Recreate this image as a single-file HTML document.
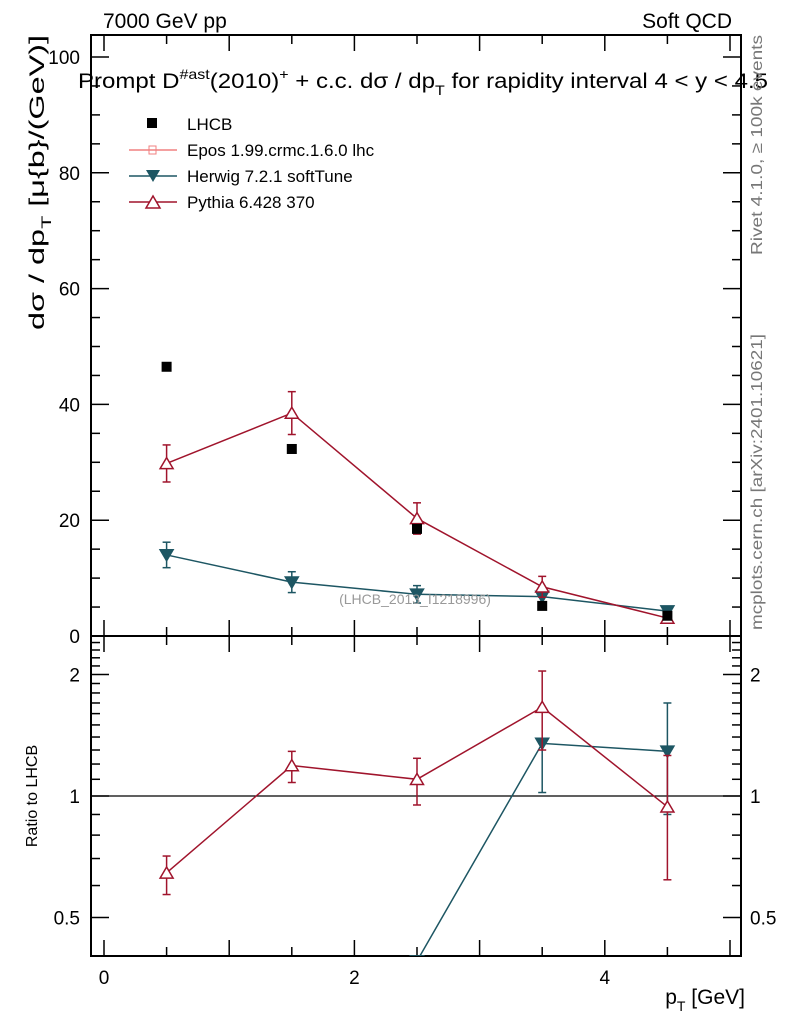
<!DOCTYPE html>
<html><head><meta charset="utf-8"><style>
body{margin:0;background:#fff;}
svg{font-family:"Liberation Sans",sans-serif;}
</style></head><body>
<svg id="c" width="786" height="1024" xmlns="http://www.w3.org/2000/svg"></svg>
<script>
const xCenters=[0.5,1.5,2.5,3.5,4.5];
const lhcb=[46.5,32.3,18.5,5.2,3.5];
const pythia=[29.8,38.5,20.3,8.5,3.1];
const pythiaErr=[3.2,3.7,2.7,1.8,0.8];
const herwig=[14.0,9.3,7.2,6.8,4.3];
const herwigErr=[2.2,1.8,1.5,1.2,0.8];
const ratioPythia=[0.645,1.19,1.10,1.66,0.94];
const ratioPythiaLo=[0.57,1.08,0.95,1.30,0.62];
const ratioPythiaHi=[0.71,1.29,1.24,2.04,1.26];
const ratioHerwig=[0.30,0.29,0.39,1.35,1.29];
const ratioHerwigLo=[0.30,0.29,0.39,1.02,0.90];
const ratioHerwigHi=[0.30,0.29,0.39,1.35,1.70];
const mainTicks=[0,20,40,60,80,100];
const ratioTicks=[0.5,1,2];
const xTicks=[0,2,4];

const L=91,R=741,T=35,MB=636,RB=956;
const X=v=>104+(v-0)*125.2;
const Y=v=>636-v*5.79;
const YR=v=>796-Math.log2(v)*121.5;
const svg=document.getElementById('c');
const NS='http://www.w3.org/2000/svg';
function el(tag,attrs,parent){const e=document.createElementNS(NS,tag);for(const k in attrs)e.setAttribute(k,attrs[k]);(parent||svg).appendChild(e);return e;}
function txt(s,x,y,attrs){const t=el('text',Object.assign({x:x,y:y},attrs||{}));t.textContent=s;return t;}

let f1=el('rect',{x:L,y:T,width:R-L,height:MB-T,fill:'none',stroke:'#000','stroke-width':2});

let f2=el('rect',{x:L,y:MB,width:R-L,height:RB-MB,fill:'none',stroke:'#000','stroke-width':2});


for(let v=0;v<=100;v+=5){const y=Y(v);if(y<T)continue;const big=v%20===0;
 el('line',{x1:L,x2:L+(big?18:9),y1:y,y2:y,stroke:'#000','stroke-width':1.5});
 el('line',{x1:R,x2:R-(big?18:9),y1:y,y2:y,stroke:'#000','stroke-width':1.5});}
mainTicks.forEach(v=>{const t=txt(String(v),80,Y(v)+7,{'font-size':19,'text-anchor':'end'});
 });
for(let v=0;v<=5;v+=0.5){const x=X(v);const big=v%1===0;
 [[MB,-1],[T,1],[RB,-1],[MB,1]].forEach(([y0,d])=>el('line',{x1:x,x2:x,y1:y0,y2:y0+d*(big?16:9),stroke:'#000','stroke-width':1.5}));}
xTicks.forEach(v=>{const t=txt(String(v),X(v),984,{'font-size':19,'text-anchor':'middle'});
 });
for(let v=0.4;v<=2.5;v+=0.1){const y=YR(v);if(y<MB||y>RB)continue;const big=[0.5,1,2].some(a=>Math.abs(a-v)<1e-6);
 el('line',{x1:L,x2:L+(big?18:9),y1:y,y2:y,stroke:'#000','stroke-width':1.5});
 el('line',{x1:R,x2:R-(big?18:9),y1:y,y2:y,stroke:'#000','stroke-width':1.5});}
ratioTicks.forEach(v=>{let t=txt(String(v),80,YR(v)+7,{'font-size':19,'text-anchor':'end'});
 
 t=txt(String(v),750,YR(v)+7,{'font-size':19});
 });
el('line',{x1:L,x2:R,y1:YR(1),y2:YR(1),stroke:'#000','stroke-width':1.2});

const cp=el('clipPath',{id:'rc'});el('rect',{x:L,y:MB,width:R-L,height:RB-MB},cp);
const cm=el('clipPath',{id:'mc'});el('rect',{x:L,y:T,width:R-L,height:MB-T},cm);

const HC='#1d5663',PC='#a0142c';
function tri(g,x,y,c,down){const s=6.5;const p=down?`${x-s},${y-s*0.8} ${x+s},${y-s*0.8} ${x},${y+s*0.9}`:`${x-s},${y+s*0.8} ${x+s},${y+s*0.8} ${x},${y-s*0.9}`;
 el('polygon',{points:p,fill:down?c:'#fff',stroke:c,'stroke-width':1.5},g);}
function errbar(g,x,y1,y2,c){el('line',{x1:x,x2:x,y1:y1,y2:y2,stroke:c,'stroke-width':1.5},g);
 el('line',{x1:x-4,x2:x+4,y1:y1,y2:y1,stroke:c,'stroke-width':1.5},g);el('line',{x1:x-4,x2:x+4,y1:y2,y2:y2,stroke:c,'stroke-width':1.5},g);}

let g=el('g',{'clip-path':'url(#mc)'});
el('polyline',{points:xCenters.map((x,i)=>X(x)+','+Y(herwig[i])).join(' '),fill:'none',stroke:HC,'stroke-width':1.5},g);
xCenters.forEach((x,i)=>{errbar(g,X(x),Y(herwig[i]-herwigErr[i]),Y(herwig[i]+herwigErr[i]),HC);tri(g,X(x),Y(herwig[i]),HC,true);});
g=el('g',{'clip-path':'url(#mc)'});
el('polyline',{points:xCenters.map((x,i)=>X(x)+','+Y(pythia[i])).join(' '),fill:'none',stroke:PC,'stroke-width':1.5},g);
xCenters.forEach((x,i)=>{errbar(g,X(x),Y(pythia[i]-pythiaErr[i]),Y(pythia[i]+pythiaErr[i]),PC);tri(g,X(x),Y(pythia[i]),PC,false);});
g=el('g',{});
xCenters.forEach((x,i)=>{el('rect',{x:X(x)-5,y:Y(lhcb[i])-5,width:10,height:10,fill:'#000'},g);});

g=el('g',{'clip-path':'url(#rc)'});
el('polyline',{points:xCenters.map((x,i)=>X(x)+','+YR(ratioHerwig[i])).join(' '),fill:'none',stroke:HC,'stroke-width':1.5},g);
xCenters.forEach((x,i)=>{if(ratioHerwigHi[i]>ratioHerwigLo[i])errbar(g,X(x),YR(ratioHerwigLo[i]),YR(ratioHerwigHi[i]),HC);tri(g,X(x),YR(ratioHerwig[i]),HC,true);});
g=el('g',{'clip-path':'url(#rc)'});
el('polyline',{points:xCenters.map((x,i)=>X(x)+','+YR(ratioPythia[i])).join(' '),fill:'none',stroke:PC,'stroke-width':1.5},g);
xCenters.forEach((x,i)=>{errbar(g,X(x),YR(ratioPythiaLo[i]),YR(ratioPythiaHi[i]),PC);tri(g,X(x),YR(ratioPythia[i]),PC,false);});
</script>
<svg style="position:absolute;left:0;top:0" width="786" height="1024" xmlns="http://www.w3.org/2000/svg" font-family="Liberation Sans, sans-serif">
<text x="103" y="28" font-size="21">7000 GeV pp</text>
<text x="732" y="28" font-size="21" text-anchor="end">Soft QCD</text>
<text x="78" y="88" font-size="21" textLength="690" lengthAdjust="spacingAndGlyphs">Prompt D<tspan dy="-9" font-size="14">#ast</tspan><tspan dy="9">(2010)</tspan><tspan dy="-9" font-size="14">+</tspan><tspan dy="9"> + c.c.  dσ / dp</tspan><tspan dy="7" font-size="14">T</tspan><tspan dy="-7"> for rapidity interval 4 &lt; y &lt; 4.5</tspan></text>
<g font-size="17">
<rect x="147" y="118" width="10" height="10" fill="#000"/><text x="187" y="130">LHCB</text>
<line x1="129" x2="177" y1="150" y2="150" stroke="#f08080" stroke-width="1.5"/><rect x="149" y="146" width="7" height="8" fill="none" stroke="#f08080"/><text x="187" y="156">Epos 1.99.crmc.1.6.0 lhc</text>
<line x1="129" x2="177" y1="176" y2="176" stroke="#1d5663" stroke-width="1.5"/><polygon points="146,170 160,170 153,182" fill="#1d5663"/><text x="187" y="182">Herwig 7.2.1 softTune</text>
<line x1="129" x2="177" y1="202" y2="202" stroke="#a0142c" stroke-width="1.5"/><polygon points="146,208 160,208 153,196" fill="#fff" stroke="#a0142c" stroke-width="1.5"/><text x="187" y="208">Pythia 6.428 370</text>
</g>
<text transform="translate(44,35) rotate(-90)" font-size="21" text-anchor="end" textLength="295" lengthAdjust="spacingAndGlyphs">dσ / dp<tspan dy="7" font-size="14">T</tspan><tspan dy="-7"> [μ{b}/(GeV)]</tspan></text>
<text transform="translate(37,796) rotate(-90)" font-size="16" text-anchor="middle">Ratio to LHCB</text>
<text x="745" y="1004" font-size="21" text-anchor="end">p<tspan dy="7" font-size="14">T</tspan><tspan dy="-7"> [GeV]</tspan></text>
<text x="415" y="604" font-size="14" fill="#999" text-anchor="middle">(LHCB_2013_I1218996)</text>
<text transform="translate(762,255) rotate(-90)" font-size="16" fill="#777" textLength="220" lengthAdjust="spacingAndGlyphs">Rivet 4.1.0, ≥ 100k events</text>
<text transform="translate(762,630) rotate(-90)" font-size="16" fill="#777" textLength="296" lengthAdjust="spacingAndGlyphs">mcplots.cern.ch [arXiv:2401.10621]</text>
</svg>
</body></html>
